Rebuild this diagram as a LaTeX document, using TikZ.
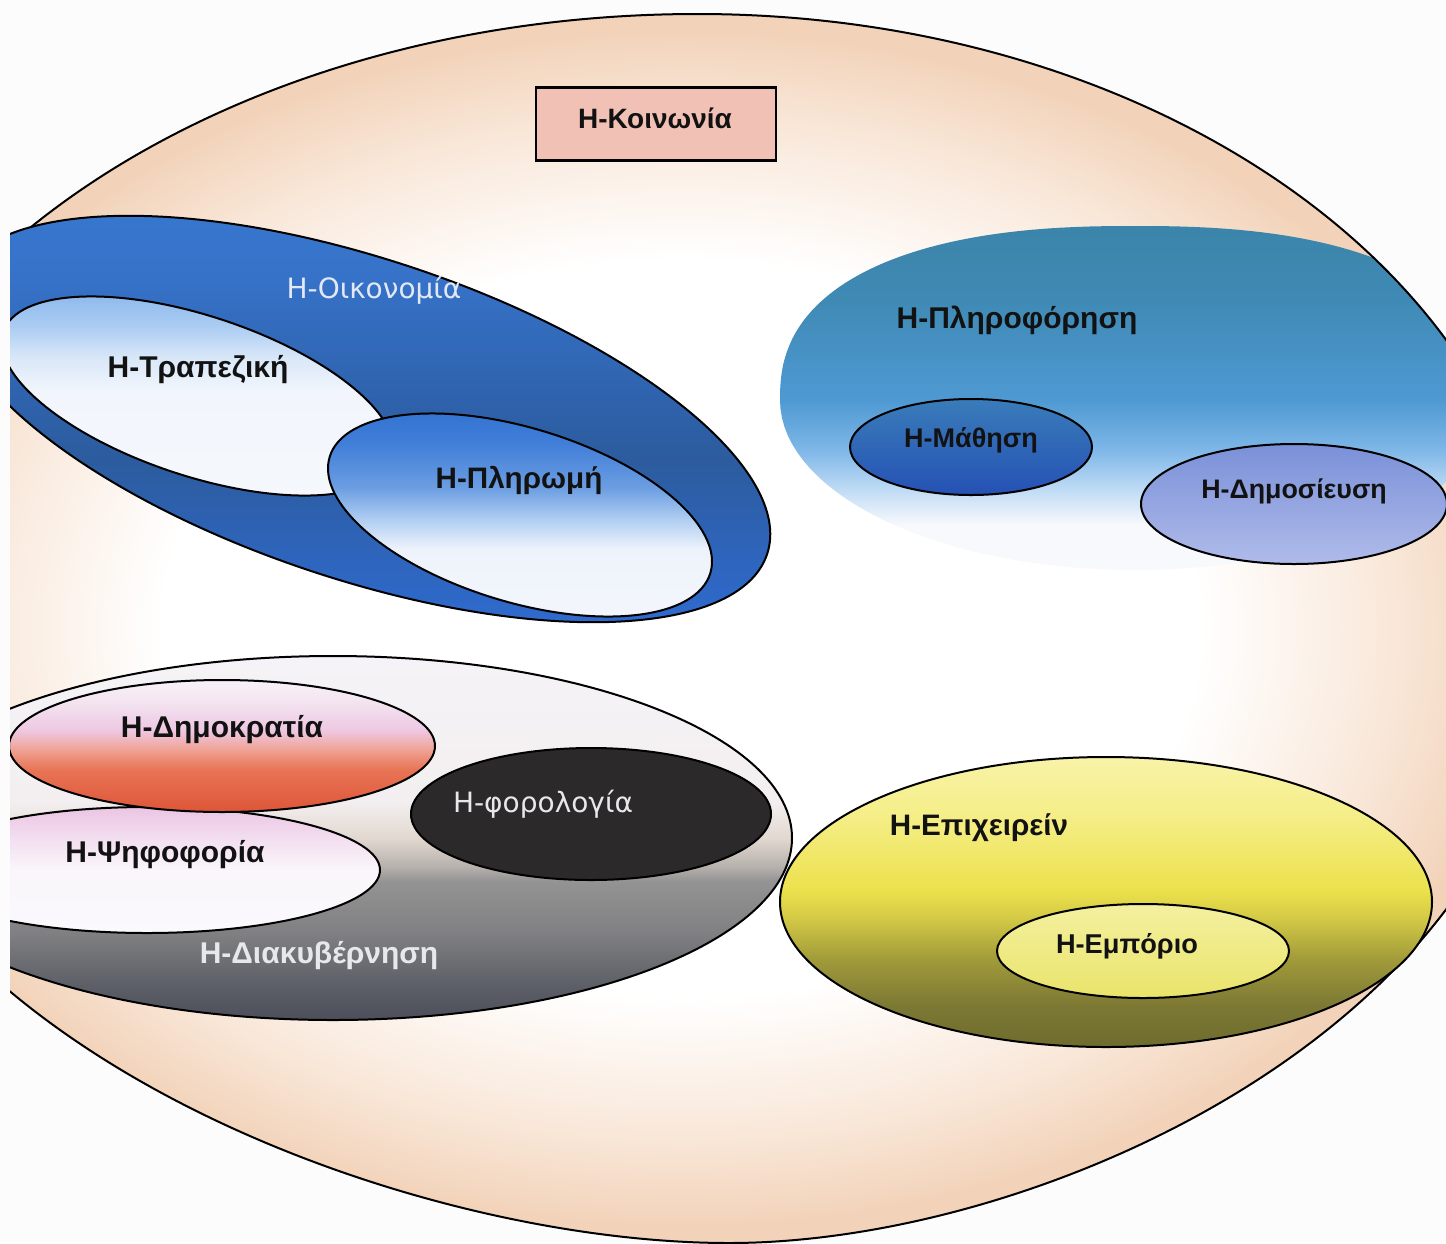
\documentclass[tikz,border=0pt]{standalone}
\usepackage{fontspec}
\setmainfont{Liberation Sans}
\newfontfamily\dejavu{DejaVu Sans}
% colours
\definecolor{bgwhite}{HTML}{FCFCFC}
\definecolor{peach}{HTML}{F2D2B8}
\definecolor{peachmid}{HTML}{F9E8DA}
\definecolor{kboxfill}{HTML}{F1C1B5}
\definecolor{labwhite}{HTML}{E2E8F4}
\definecolor{labgray}{HTML}{E8E8EC}
\definecolor{foroblack}{HTML}{2B2929}
\definecolor{mathtop}{HTML}{3A7CBA}
\definecolor{mathbot}{HTML}{2551B4}
\definecolor{dimtop}{HTML}{7A90D8}
\definecolor{dimbot}{HTML}{B0BBEA}
\definecolor{empotop}{HTML}{F4F0A0}
\definecolor{empobot}{HTML}{E9E46A}
% Oikonomia
\definecolor{oikA}{HTML}{3878D0}
\definecolor{oikB}{HTML}{3672C8}
\definecolor{oikC}{HTML}{2F63AE}
\definecolor{oikD}{HTML}{2C5C9E}
\definecolor{oikE}{HTML}{2E64BA}
\definecolor{oikF}{HTML}{2F6CD4}
% Trapeziki
\definecolor{trA}{HTML}{86B4EC}
\definecolor{trB}{HTML}{A9CBF2}
\definecolor{trC}{HTML}{D8E7F8}
\definecolor{trD}{HTML}{F2F6FC}
\definecolor{trE}{HTML}{F5F7FC}
% Pliromi
\definecolor{plA}{HTML}{2F6FCF}
\definecolor{plB}{HTML}{3F7DD8}
\definecolor{plC}{HTML}{6B9DE2}
\definecolor{plD}{HTML}{B2CFF2}
\definecolor{plE}{HTML}{EEF3FB}
\definecolor{plF}{HTML}{F4F7FC}
% Pliroforisi
\definecolor{inA}{HTML}{3B84AA}
\definecolor{inB}{HTML}{3F8AB5}
\definecolor{inC}{HTML}{4E99D2}
\definecolor{inD}{HTML}{7FB7E8}
\definecolor{inE}{HTML}{C8E0F6}
\definecolor{inF}{HTML}{F8F9FC}
% Diakyvernisi
\definecolor{diA}{HTML}{F5F3F7}
\definecolor{diB}{HTML}{F3EFF0}
\definecolor{diC}{HTML}{E2D8D0}
\definecolor{diD}{HTML}{B5B0AC}
\definecolor{diE}{HTML}{939393}
\definecolor{diF}{HTML}{808082}
\definecolor{diG}{HTML}{5E6068}
\definecolor{diH}{HTML}{4C4E5A}
% Dimokratia
\definecolor{dkA}{HTML}{F8F2F8}
\definecolor{dkB}{HTML}{F3E2F0}
\definecolor{dkC}{HTML}{EEC8E2}
\definecolor{dkD}{HTML}{EFA193}
\definecolor{dkE}{HTML}{E87455}
\definecolor{dkF}{HTML}{DE5538}
% Psifoforia
\definecolor{psA}{HTML}{EBC5E3}
\definecolor{psB}{HTML}{F3DFF0}
\definecolor{psC}{HTML}{FAF6FB}
\definecolor{psD}{HTML}{FAF9FC}
% Epixeirein
\definecolor{epA}{HTML}{F8F3A8}
\definecolor{epB}{HTML}{F5EE88}
\definecolor{epC}{HTML}{ECE14C}
\definecolor{epD}{HTML}{D2C845}
\definecolor{epE}{HTML}{A09A3A}
\definecolor{epF}{HTML}{7C7834}
\definecolor{epG}{HTML}{6E6C2E}
% shadings
\pgfdeclareradialshading{bigpeach}{\pgfpoint{0bp}{0bp}}{color(0bp)=(white); color(15bp)=(white); color(20.5bp)=(peachmid); color(24.5bp)=(peach); color(50bp)=(peach)}
\pgfdeclareverticalshading{oikosh}{100bp}{color(0bp)=(oikF); color(25bp)=(oikF); color(35.5bp)=(oikE); color(45.5bp)=(oikD); color(53bp)=(oikC); color(65.5bp)=(oikB); color(75bp)=(oikA); color(100bp)=(oikA)}
\pgfdeclareverticalshading{trapsh}{100bp}{color(0bp)=(trE); color(25bp)=(trE); color(51bp)=(trD); color(58.7bp)=(trC); color(66bp)=(trB); color(75bp)=(trA); color(100bp)=(trA)}
\pgfdeclareverticalshading{plirsh}{100bp}{color(0bp)=(plF); color(25bp)=(plF); color(42.6bp)=(plE); color(48.8bp)=(plD); color(56bp)=(plC); color(66bp)=(plB); color(75bp)=(plA); color(100bp)=(plA)}
\pgfdeclareverticalshading{infosh}{100bp}{color(0bp)=(inF); color(25bp)=(inF); color(31.5bp)=(inF); color(35.9bp)=(inE); color(42.4bp)=(inD); color(49.7bp)=(inC); color(64.2bp)=(inB); color(75bp)=(inA); color(100bp)=(inA)}
\pgfdeclareverticalshading{diaksh}{100bp}{color(0bp)=(diH); color(25bp)=(diH); color(30bp)=(diG); color(37bp)=(diF); color(44bp)=(diE); color(46bp)=(diD); color(50bp)=(diC); color(55bp)=(diB); color(75bp)=(diA); color(100bp)=(diA)}
\pgfdeclareverticalshading{dimoksh}{100bp}{color(0bp)=(dkF); color(25bp)=(dkF); color(41bp)=(dkE); color(48.5bp)=(dkD); color(56bp)=(dkC); color(66bp)=(dkB); color(75bp)=(dkA); color(100bp)=(dkA)}
\pgfdeclareverticalshading{psifsh}{100bp}{color(0bp)=(psD); color(25bp)=(psD); color(50bp)=(psC); color(62bp)=(psB); color(75bp)=(psA); color(100bp)=(psA)}
\pgfdeclareverticalshading{epixsh}{100bp}{color(0bp)=(epG); color(25bp)=(epG); color(32bp)=(epF); color(40bp)=(epE); color(47bp)=(epD); color(52bp)=(epC); color(65bp)=(epB); color(75bp)=(epA); color(100bp)=(epA)}

\def\bigpath{(-182.5,628) arc[start angle=180, end angle=270, x radius=880, y radius=614] arc[start angle=270, end angle=360, x radius=847.5, y radius=614] .. controls (1545,1010) and (1055,1243) .. (729,1243) .. controls (381,1243) and (-182.5,1020) .. cycle}

\begin{document}
\begin{tikzpicture}[x=0.5pt,y=-0.5pt,
  outl/.style={draw=black, line width=1pt},
  lab/.style={font=\bfseries\fontsize{#1}{16}\selectfont, anchor=base, inner sep=0pt, text=black!93},
  lab/.default=14,
  wlab/.style={font=\dejavu\fontsize{14}{16}\selectfont, anchor=base, inner sep=0pt}]
\fill[bgwhite] (0,0) rectangle (1446,1243);
\useasboundingbox (0,0) rectangle (1446,1243);
\begin{scope}
\clip (10,0) rectangle (1446,1243);
% society
\shade[shading=bigpeach] \bigpath;
\begin{scope}
\clip \bigpath;
\shade[shading=infosh] plot[domain=180.5:359.5, samples=90] ({1135+355*sign(cos(\x))*abs(cos(\x))^0.8333}, {400-174*abs(sin(\x))^0.8333}) -- plot[domain=0:180, samples=61] ({1135+355*cos(\x)}, {400+170*sin(\x)}) -- cycle;
\end{scope}
\draw[line width=1pt] \bigpath;
% economy group
\shade[shading=oikosh, outl, rotate around={-18.4:(361,419)}] (361,419) ellipse [x radius=428, y radius=160];
\shade[shading=trapsh, outl, rotate around={-18.3:(198,396)}] (198,396) ellipse [x radius=205, y radius=80];
\shade[shading=plirsh, outl, rotate around={-17:(520,515)}] (520,515) ellipse [x radius=199, y radius=87];
% information group
\shade[top color=mathtop, bottom color=mathbot, outl] (971,447) ellipse [x radius=121, y radius=48];
\shade[top color=dimtop, bottom color=dimbot, outl] (1294,504) ellipse [x radius=153, y radius=60];
% governance group
\shade[shading=diaksh, outl] (333,838) ellipse [x radius=459, y radius=182];
\shade[shading=psifsh, outl] (147,870) ellipse [x radius=233, y radius=63];
\shade[shading=dimoksh, outl] (222,746) ellipse [x radius=213, y radius=66];
\fill[foroblack, outl] (591,814) ellipse [x radius=180, y radius=66];
% business group
\shade[shading=epixsh, outl] (1106,902) ellipse [x radius=326, y radius=145];
\shade[top color=empotop, bottom color=empobot, outl] (1143,951) ellipse [x radius=146, y radius=47];
\end{scope}
% society box
\node[draw=black, line width=1.2pt, fill=kboxfill, minimum width=120pt, minimum height=36.5pt, inner sep=0pt] (kbox) at (656,124) {};
% labels
\node[lab] (koin) at (655,128) {Η-Κοινωνία};
\node[wlab, text=labwhite] (oikon) at (374,298) {Η-Οικονομία};
\node[lab=15] (trap) at (198,377) {Η-Τραπεζική};
\node[lab=14.8] (plir) at (519,488) {Η-Πληρωμή};
\node[lab=15] (pliro) at (1017,328) {Η-Πληροφόρηση};
\node[lab=13.5] (math) at (971,447) {Η-Μάθηση};
\node[lab=13.4] (dimos) at (1294,498) {Η-Δημοσίευση};
\node[lab=15] (dimok) at (222,737) {Η-Δημοκρατία};
\node[lab=15] (psif) at (165,862) {Η-Ψηφοφορία};
\node[wlab, text=labgray] (foro) at (543,812) {Η-φορολογία};
\node[lab=15, text=labgray] (diak) at (319,963) {Η-Διακυβέρνηση};
\node[lab=14.8] (epix) at (979,835) {Η-Επιχειρείν};
\node[lab=13.6] (empo) at (1127,953) {Η-Εμπόριο};
\end{tikzpicture}
\end{document}
